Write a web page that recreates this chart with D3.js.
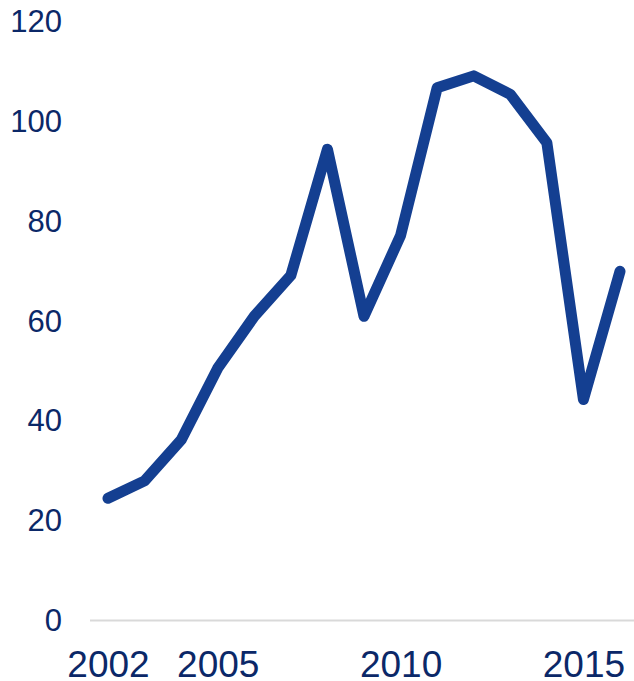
<!DOCTYPE html>
<html>
<head>
<meta charset="utf-8">
<script src="https://cdn.jsdelivr.net/npm/d3@7"></script>
<style>
  body { margin: 0; background: #fff; }
  svg { display: block; }
</style>
</head>
<body>
<div id="chart"></div>
<script>
// values
var years = [2002, 2003, 2004, 2005, 2006, 2007, 2008, 2009, 2010, 2011, 2012, 2013, 2014, 2015, 2016];
var values = [24.5, 28, 36.2, 50.6, 61, 69.2, 94.5, 61, 77.2, 106.8, 109.2, 105.5, 95.8, 44.3, 70];
var yTicks = [0, 20, 40, 60, 80, 100, 120];
var xTicks = [2002, 2005, 2010, 2015];

var width = 634, height = 681;
var textColor = "#0b2868";
var lineColor = "#143f91";

var svg = d3.select("#chart")
    .append("svg")
    .attr("width", width)
    .attr("height", height);

var x = d3.scaleLinear()
    .domain([2002, 2016])
    .range([108, 620]);

var y = d3.scaleLinear()
    .domain([0, 120])
    .range([620.5, 22]);

// baseline
svg.append("line")
    .attr("x1", 90)
    .attr("x2", width)
    .attr("y1", y(0))
    .attr("y2", y(0))
    .attr("stroke", "#d9d9d9")
    .attr("stroke-width", 2);

// y axis labels
var yAxis = svg.append("g")
    .attr("transform", "translate(62,0)")
    .call(d3.axisLeft(y).tickValues(yTicks).tickSize(0).tickPadding(0));
yAxis.select(".domain").remove();
yAxis.selectAll("text")
    .attr("fill", textColor)
    .style("font-family", "Liberation Sans, Arial, sans-serif")
    .style("font-size", "31px");

// x axis labels
var xAxis = svg.append("g")
    .attr("transform", "translate(0," + 651 + ")")
    .call(d3.axisBottom(x).tickValues(xTicks).tickFormat(d3.format("d")).tickSize(0).tickPadding(0));
xAxis.select(".domain").remove();
xAxis.selectAll("text")
    .attr("fill", textColor)
    .style("font-family", "Liberation Sans, Arial, sans-serif")
    .style("font-size", "37px");

// the line
var data = years.map(function (d, i) { return { year: d, value: values[i] }; });
svg.append("path")
    .datum(data)
    .attr("fill", "none")
    .attr("stroke", lineColor)
    .attr("stroke-width", 11)
    .attr("stroke-linecap", "round")
    .attr("stroke-linejoin", "round")
    .attr("d", d3.line()
        .x(function (d) { return x(d.year); })
        .y(function (d) { return y(d.value); })
    );
</script>
</body>
</html>
